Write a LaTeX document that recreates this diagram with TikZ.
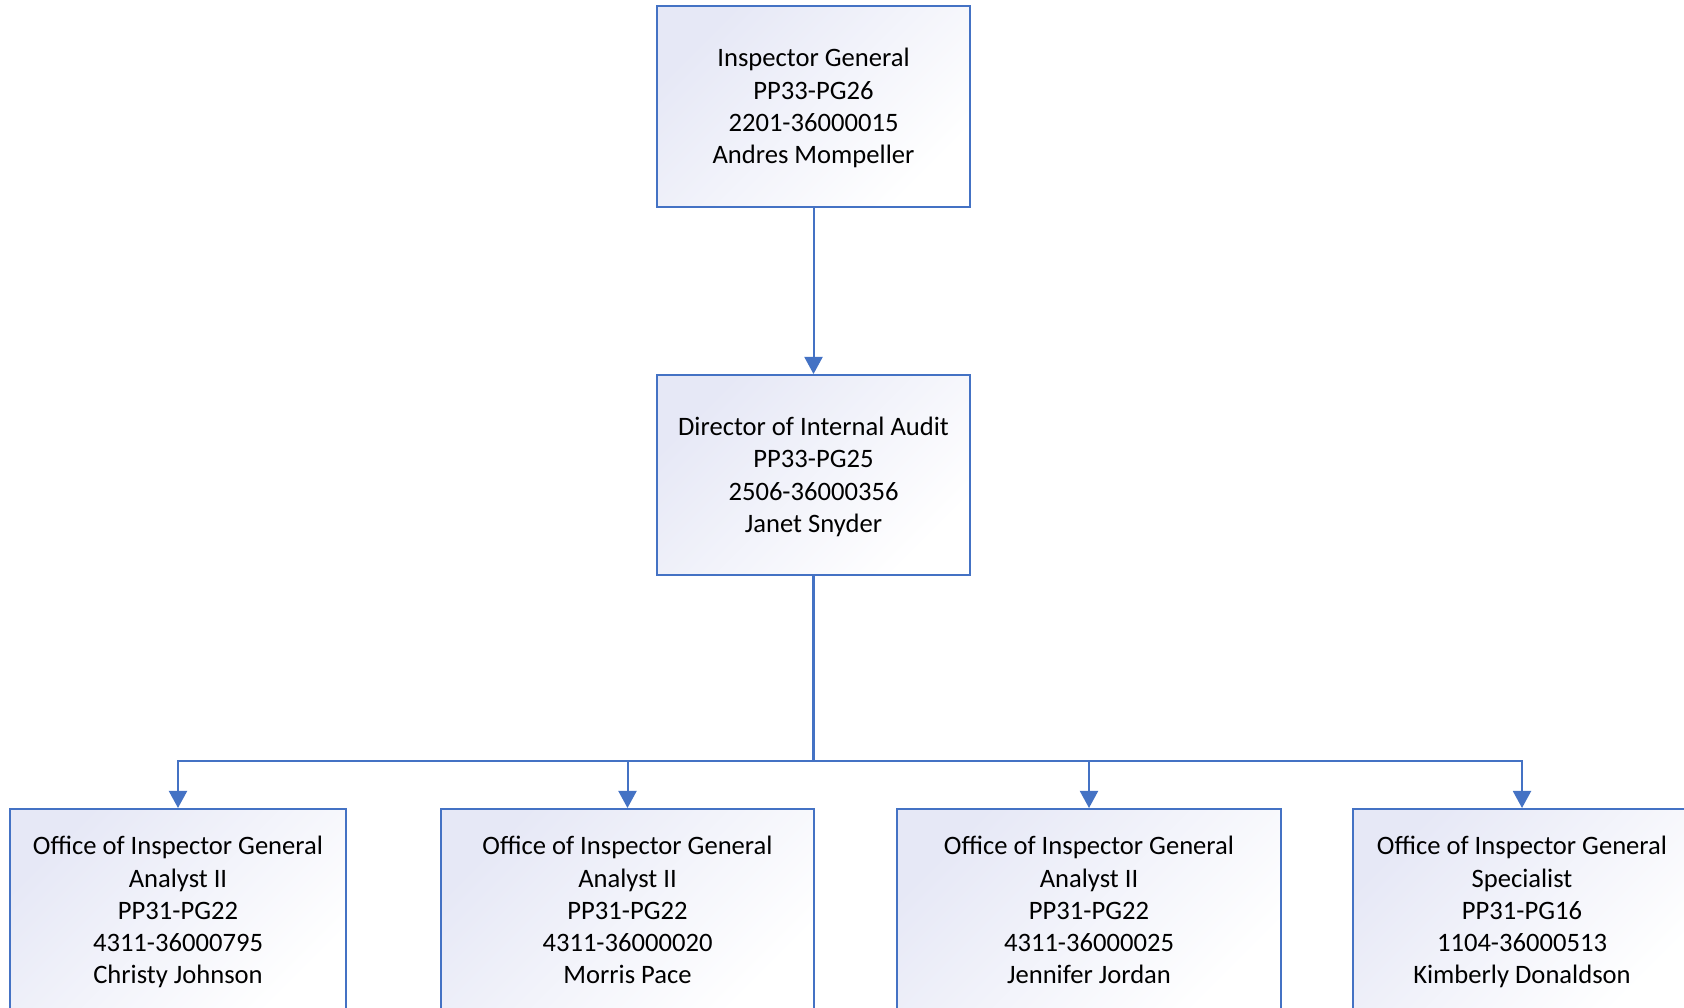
\documentclass[tikz,border=0pt]{standalone}
\usepackage{fontspec}
\setmainfont{Carlito}
\usetikzlibrary{arrows.meta}
\definecolor{linkblue}{RGB}{68,114,196}
\definecolor{boxtint}{RGB}{230,232,246}
\tikzset{
  x=1pt, y=1pt,
  posbox/.style={draw=linkblue, line width=2pt, top color=boxtint, bottom color=white,
    shading angle=45, inner sep=0pt},
  boxtext/.style={align=center, inner sep=0pt, yshift=-4.5pt,
    font=\fontsize{26.6}{32.3}\selectfont, text=black,
    execute at begin node=\strut, execute at end node=\strut},
  conn/.style={draw=linkblue, line width=2pt,
    -{Triangle[width=18pt,length=17pt]}},
  trunk/.style={draw=linkblue, line width=3pt},
}
\begin{document}
\begin{tikzpicture}
\useasboundingbox (0,0) rectangle (1684,1008);
\clip (0,0) rectangle (1684,1008);
\fill[white] (0,0) rectangle (1684,1008);

\node[posbox, minimum width=313pt, minimum height=201pt,
  label={[boxtext]center:{Inspector General\\PP33-PG26\\2201-36000015\\Andres Mompeller}}]
  (ig) at (813.5,901.5) {};
\node[posbox, minimum width=313pt, minimum height=200pt,
  label={[boxtext]center:{Director of Internal Audit\\PP33-PG25\\2506-36000356\\Janet Snyder}}]
  (dir) at (813.5,533) {};

\node[posbox, minimum width=336pt, minimum height=203pt,
  label={[boxtext]center:{Office of Inspector General\\Analyst II\\PP31-PG22\\4311-36000795\\Christy Johnson}}]
  (b1) at (178,97.5) {};
\node[posbox, minimum width=373pt, minimum height=203pt,
  label={[boxtext]center:{Office of Inspector General\\Analyst II\\PP31-PG22\\4311-36000020\\Morris Pace}}]
  (b2) at (627.5,97.5) {};
\node[posbox, minimum width=384pt, minimum height=203pt,
  label={[boxtext]center:{Office of Inspector General\\Analyst II\\PP31-PG22\\4311-36000025\\Jennifer Jordan}}]
  (b3) at (1089,97.5) {};
\node[posbox, minimum width=338pt, minimum height=203pt,
  label={[boxtext]center:{Office of Inspector General\\Specialist\\PP31-PG16\\1104-36000513\\Kimberly Donaldson}}]
  (b4) at (1522,97.5) {};

\coordinate (bar) at (813.5,247);

\draw[conn] (ig.south) -- (dir.north);
\draw[trunk] (dir.south) -- (bar);
\draw[conn] (bar) -| (b1.north);
\draw[conn] (bar) -| (b2.north);
\draw[conn] (bar) -| (b3.north);
\draw[conn] (bar) -| (b4.north);
\end{tikzpicture}
\end{document}
